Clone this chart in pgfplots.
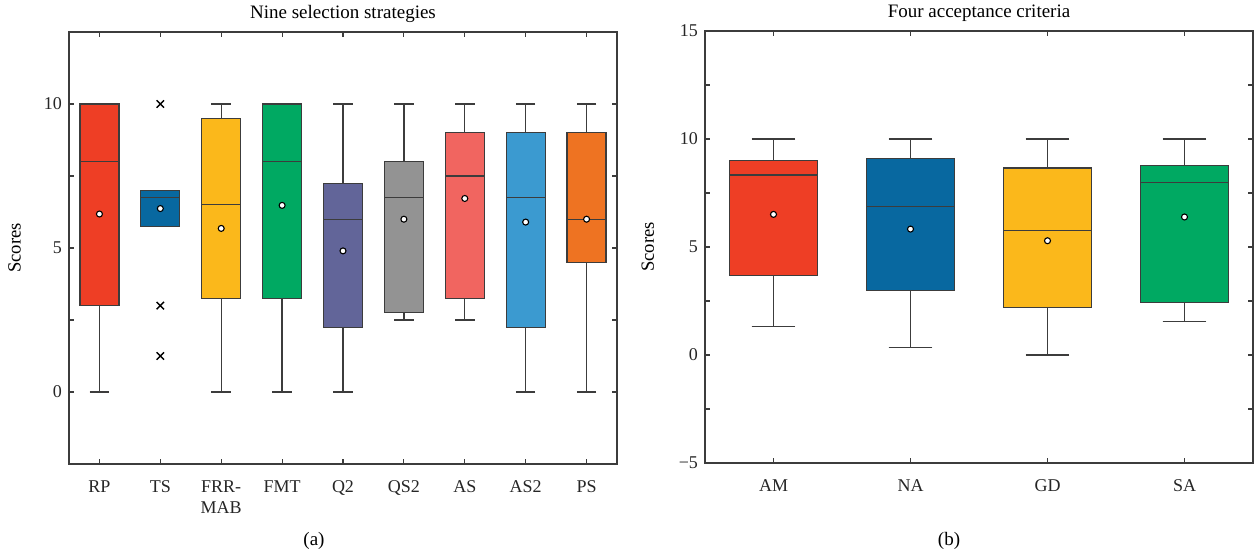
\documentclass[border=0pt]{standalone}
\usepackage{fontspec}
\setmainfont{Liberation Serif}
\usepackage{pgfplots}
\pgfplotsset{compat=1.18}
\usepgfplotslibrary{statistics}
\definecolor{cRP}{RGB}{238,62,37}
\definecolor{cTS}{RGB}{8,104,160}
\definecolor{cFRR}{RGB}{251,184,27}
\definecolor{cFMT}{RGB}{0,169,98}
\definecolor{cQ2}{RGB}{98,101,153}
\definecolor{cQS2}{RGB}{147,147,147}
\definecolor{cAS}{RGB}{241,101,96}
\definecolor{cAS2}{RGB}{59,154,208}
\definecolor{cPS}{RGB}{238,115,34}
\definecolor{axgray}{RGB}{60,60,60}
\pgfplotsset{
  myaxis/.style={
    scale only axis, width=274pt, height=216pt,
    boxplot/draw direction=y,
    axis line style={draw=axgray, line width=0.6pt},
    every tick/.style={draw=axgray, line width=0.6pt},
    major tick length=2.5pt,
    tick align=inside,
    xtick pos=both, ytick pos=both,
    xticklabel pos=bottom, yticklabel pos=left,
    /pgf/number format/assume math mode=true,
    tick label style={font=\fontsize{9}{10.5}\selectfont, text=black!85},
    xticklabel style={align=center, yshift=-5pt},
    label style={font=\fontsize{9.3}{11}\selectfont},
    title style={font=\fontsize{9.5}{11}\selectfont, yshift=-5pt},
    ylabel={Scores},
    clip=false,
  },
  bx/.style={draw=axgray, line width=0.65pt, solid},
  meanmark/.style={only marks, mark=*, mark size=1.5pt, mark options={fill=white, draw=black, line width=0.55pt}},
  outmark/.style={only marks, mark=x, mark size=2.6pt, mark options={draw=black, line width=0.7pt}},
}
% prepared box statistics: pos, lw, lq, med, uq, uw, colour
\newcommand{\bp}[7]{%
  \addplot[bx, fill=#7, boxplot prepared={draw position=#1, lower whisker=#2, lower quartile=#3, median=#4, upper quartile=#5, upper whisker=#6, box extend=0.64, whisker extend=0.32}] coordinates {};}
\begin{document}
\begin{tikzpicture}
\useasboundingbox (0,0) rectangle (629pt,-278pt);
\begin{axis}[myaxis,
  at={(34.5pt,-232pt)}, anchor=south west,
  xmin=0.5, xmax=9.5, ymin=-2.5, ymax=12.5,
  xtick={1,2,3,4,5,6,7,8,9},
  xticklabels={RP,TS,{FRR-\\MAB},FMT,Q2,QS2,AS,AS2,PS},
  ytick={-2.5,0,2.5,5,7.5,10,12.5},
  yticklabels={,0,,5,,10,},
  ylabel style={at={(axis description cs:-0.075,0.5)}, anchor=south},
  title={Nine selection strategies},
]
\bp{1}{0}{3}{8}{10}{10}{cRP}
\bp{2}{5.75}{5.75}{6.75}{7}{7}{cTS}
\bp{3}{0}{3.25}{6.5}{9.5}{10}{cFRR}
\bp{4}{0}{3.25}{8}{10}{10}{cFMT}
\bp{5}{0}{2.25}{6}{7.25}{10}{cQ2}
\bp{6}{2.5}{2.75}{6.75}{8}{10}{cQS2}
\bp{7}{2.5}{3.25}{7.5}{9}{10}{cAS}
\bp{8}{0}{2.25}{6.75}{9}{10}{cAS2}
\bp{9}{0}{4.5}{6}{9}{10}{cPS}
\addplot[meanmark] coordinates {(1,6.18) (2,6.37) (3,5.68) (4,6.48) (5,4.9) (6,6.0) (7,6.72) (8,5.9) (9,6.0)};
\addplot[outmark] coordinates {(2,10) (2,3) (2,1.25)};
\end{axis}
\begin{axis}[myaxis,
  at={(352.5pt,-231.5pt)}, anchor=south west,
  width=274pt, height=216pt,
  xmin=0.5, xmax=4.5, ymin=-5, ymax=15,
  xtick={1,2,3,4},
  xticklabels={AM,NA,GD,SA},
  ytick={-5,-2.5,0,2.5,5,7.5,10,12.5,15},
  yticklabels={−5,,0,,5,,10,,15},
  ylabel style={at={(axis description cs:-0.08,0.5)}, anchor=south},
  title={Four acceptance criteria},
]
\bp{1}{1.33}{3.67}{8.33}{9.0}{10}{cRP}
\bp{2}{0.34}{3.0}{6.88}{9.1}{10}{cTS}
\bp{3}{0}{2.21}{5.77}{8.66}{10}{cFRR}
\bp{4}{1.56}{2.44}{8.0}{8.77}{10}{cFMT}
\addplot[meanmark] coordinates {(1,6.51) (2,5.83) (3,5.29) (4,6.39)};
\end{axis}
\node[font=\fontsize{9.5}{11}\selectfont] at (157pt,-270.5pt) {(a)};
\node[font=\fontsize{9.5}{11}\selectfont] at (474.5pt,-270.5pt) {(b)};
\end{tikzpicture}
\end{document}
